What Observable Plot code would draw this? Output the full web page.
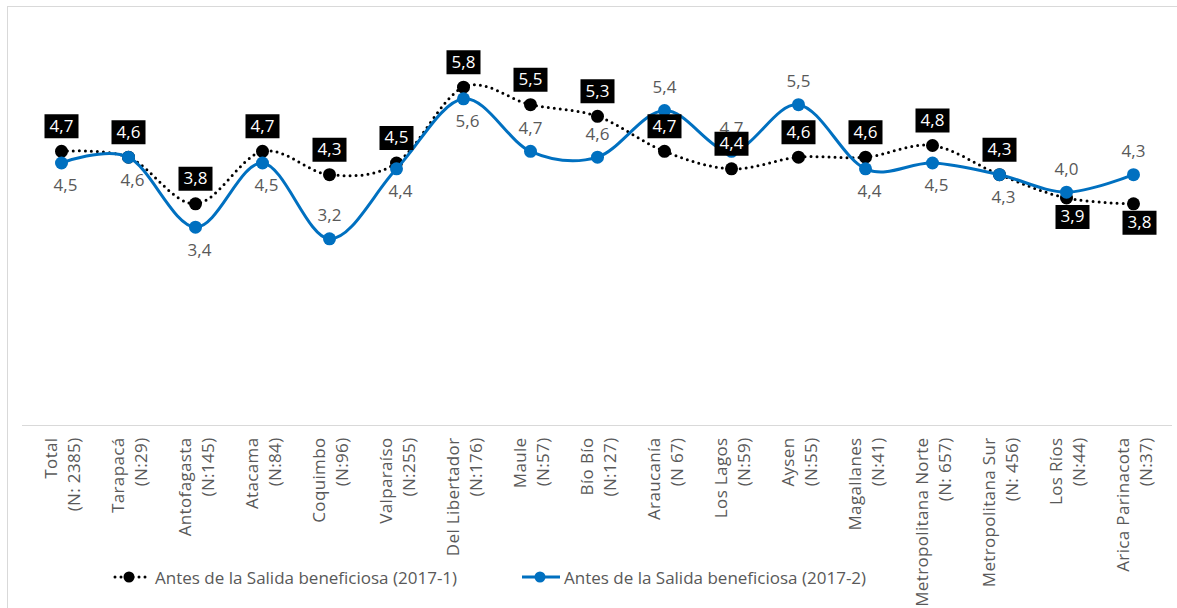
<!DOCTYPE html>
<html>
<head>
<meta charset="utf-8">
<script src="https://cdn.jsdelivr.net/npm/d3@7"></script>
<script src="https://cdn.jsdelivr.net/npm/@observablehq/plot@0.6"></script>
<style>
  body { margin: 0; background: #fff; font-family: "Open Sans", sans-serif; }
  #wrap { position: relative; width: 1177px; height: 608px; overflow: hidden; background: #fff; }
  #frame { position: absolute; left: 7px; top: 6px; width: 1300px; height: 800px; border: 1px solid #d9d9d9; pointer-events: none; }
  #chart svg { display: block; }
  .legend { position: absolute; top: 565px; height: 24px; display: flex; align-items: center; font-family: "Open Sans", sans-serif; font-size: 17px; color: #595959; white-space: nowrap; }
  .legend svg { display: block; margin-right: 3px; }
</style>
</head>
<body>
<div id="wrap">
  <div id="chart"></div>
  <div class="legend" style="left:112px">
    <svg width="40" height="24"><line x1="3" y1="12" x2="38" y2="12" stroke="#000" stroke-width="3" stroke-dasharray="0 6" stroke-linecap="round"/><circle cx="17" cy="12" r="5.5" fill="#000"/></svg>
    <span>Antes de la Salida beneficiosa (2017-1)</span>
  </div>
  <div class="legend" style="left:520px">
    <svg width="41" height="24"><line x1="2" y1="12" x2="40" y2="12" stroke="#0070C0" stroke-width="3"/><circle cx="20" cy="12" r="5.5" fill="#0070C0"/></svg>
    <span>Antes de la Salida beneficiosa (2017-2)</span>
  </div>
  <div id="frame"></div>
</div>
<script>
const regions = ["Total", "Tarapacá", "Antofagasta", "Atacama", "Coquimbo", "Valparaíso", "Del Libertador", "Maule", "Bío Bío", "Araucanía", "Los Lagos", "Aysen", "Magallanes", "Metropolitana Norte", "Metropolitana Sur", "Los Ríos", "Arica Parinacota"];
const nLabels = ["(N: 2385)", "(N:29)", "(N:145)", "(N:84)", "(N:96)", "(N:255)", "(N:176)", "(N:57)", "(N:127)", "(N 67)", "(N:59)", "(N:55)", "(N:41)", "(N: 657)", "(N: 456)", "(N:44)", "(N:37)"];
const serie1 = [4.7, 4.6, 3.8, 4.7, 4.3, 4.5, 5.8, 5.5, 5.3, 4.7, 4.4, 4.6, 4.6, 4.8, 4.3, 3.9, 3.8];
const serie2 = [4.5, 4.6, 3.4, 4.5, 3.2, 4.4, 5.6, 4.7, 4.6, 5.4, 4.7, 5.5, 4.4, 4.5, 4.3, 4.0, 4.3];
const serie1LabelBelow = ["Los Ríos", "Arica Parinacota"];
const serie2LabelAbove = ["Coquimbo", "Maule", "Bío Bío", "Araucanía", "Los Lagos", "Aysen", "Los Ríos", "Arica Parinacota"];

const d1 = regions.map((r, i) => ({region: r, value: serie1[i]}));
const d2 = regions.map((r, i) => ({region: r, value: serie2[i]}));
const fmt = v => d3.format(".1f")(v).replace(".", ",");

const box = {
  draw(ctx) {
    ctx.moveTo(-17, -12); ctx.lineTo(17, -12); ctx.lineTo(17, 12); ctx.lineTo(-17, 12); ctx.closePath();
  }
};

const d1Above = d1.filter(d => !serie1LabelBelow.includes(d.region));
const d1Below = d1.filter(d => serie1LabelBelow.includes(d.region));
const d2Above = d2.filter(d => serie2LabelAbove.includes(d.region));
const d2Below = d2.filter(d => !serie2LabelAbove.includes(d.region));

const tickLabels = Plot.text(regions, {
  x: d => d,
  text: (d, i) => d + "\n" + nLabels[i],
  frameAnchor: "bottom",
  rotate: -90,
  textAnchor: "end",
  lineAnchor: "middle",
  lineHeight: 1.35,
  dy: 12,
  fontSize: 17,
  fill: "#595959"
});

const chart = Plot.plot({
  width: 1177,
  height: 608,
  marginTop: 5,
  marginBottom: 183,
  marginLeft: 22,
  marginRight: 5,
  style: {background: "transparent", fontFamily: "'Open Sans', sans-serif"},
  x: {type: "point", domain: regions, padding: 0.5, axis: null},
  y: {domain: [0, 7.2], axis: null},
  marks: [
    Plot.ruleY([0], {stroke: "#d9d9d9", strokeWidth: 1}),
    tickLabels,
    Plot.line(d1, {x: "region", y: "value", curve: "cardinal", tension: 0, stroke: "#000", strokeWidth: 3, strokeDasharray: "0 6", strokeLinecap: "round"}),
    Plot.dot(d1, {x: "region", y: "value", r: 6.5, fill: "#000"}),
    Plot.line(d2, {x: "region", y: "value", curve: "cardinal", tension: 0, stroke: "#0070C0", strokeWidth: 3}),
    Plot.dot(d2, {x: "region", y: "value", r: 6.5, fill: "#0070C0"}),
    Plot.text(d2Below, {x: "region", y: "value", text: d => fmt(d.value), dy: 23, dx: 4, fontSize: 17, fill: "#595959"}),
    Plot.text(d2Above, {x: "region", y: "value", text: d => fmt(d.value), dy: -23, fontSize: 17, fill: "#595959"}),
    Plot.dot(d1Above, {x: "region", y: "value", symbol: box, fill: "#000", dy: -25}),
    Plot.text(d1Above, {x: "region", y: "value", text: d => fmt(d.value), dy: -25, fontSize: 17, fill: "#fff"}),
    Plot.dot(d1Below, {x: "region", y: "value", symbol: box, fill: "#000", dy: 19, dx: 6}),
    Plot.text(d1Below, {x: "region", y: "value", text: d => fmt(d.value), dy: 19, dx: 6, fontSize: 17, fill: "#fff"})
  ]
});
// spacing of the category labels
d3.select(chart).selectAll('g[aria-label="text"]').filter((d, i) => i === 0).style("letter-spacing", "0.35px");
document.getElementById("chart").appendChild(chart);
</script>
</body>
</html>
